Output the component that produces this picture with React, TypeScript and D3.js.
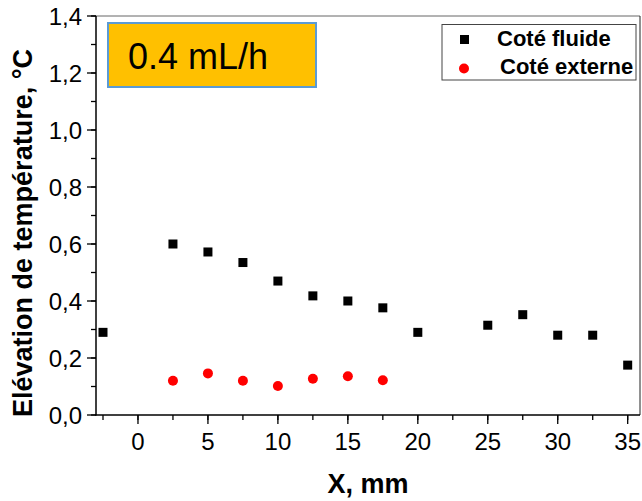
import React, { useEffect, useRef } from 'react';
import * as d3 from 'd3';

// Coté fluide (black squares)
const fluideX = [-2.5, 2.5, 5, 7.5, 10, 12.5, 15, 17.5, 20, 25, 27.5, 30, 32.5, 35];
const fluideY = [0.29, 0.6, 0.572, 0.535, 0.47, 0.418, 0.4, 0.376, 0.29, 0.315, 0.352, 0.28, 0.28, 0.175];

// Coté externe (red circles)
const externeX = [2.5, 5, 7.5, 10, 12.5, 15, 17.5];
const externeY = [0.12, 0.146, 0.12, 0.102, 0.127, 0.136, 0.122];

const xTicks = [0, 5, 10, 15, 20, 25, 30, 35];
const yTicks = [0, 0.2, 0.4, 0.6, 0.8, 1.0, 1.2, 1.4];

const seriesNames = ['Coté fluide', 'Coté externe'];
const flowLabel = '0.4 mL/h';
const xTitle = 'X, mm';
const yTitle = 'Elévation de température, °C';

const FONT = '"Liberation Sans", Arial, sans-serif';

const App = () => {
    const svgRef = useRef<SVGSVGElement | null>(null);

    useEffect(() => {
        document.body.style.margin = '0';

        const width = 642;
        const height = 501;
        const left = 96;
        const right = 640;
        const top = 16;
        const bottom = 415;

        const svg = d3.select(svgRef.current);
        svg.selectAll('*').remove();
        svg.attr('width', width).attr('height', height);

        svg.append('rect')
            .attr('width', width)
            .attr('height', height)
            .attr('fill', '#fff');

        const xScale = d3.scaleLinear().domain([-3, 35.88]).range([left, right]);
        const yScale = d3.scaleLinear().domain([0, 1.4]).range([bottom, top]);

        // frame: top and right lines
        svg.append('line')
            .attr('x1', left).attr('x2', right)
            .attr('y1', top).attr('y2', top)
            .attr('stroke', '#666').attr('stroke-width', 1);
        svg.append('line')
            .attr('x1', right).attr('x2', right)
            .attr('y1', top).attr('y2', bottom)
            .attr('stroke', '#222').attr('stroke-width', 1);

        // y axis with minor ticks
        const yMinor = d3.range(0, 1.41, 0.1);
        const yAxis = svg.append('g');
        yMinor.forEach(v => {
            yAxis.append('line')
                .attr('x1', left - 5).attr('x2', left)
                .attr('y1', yScale(v)).attr('y2', yScale(v))
                .attr('stroke', '#000').attr('stroke-width', 1.3);
        });
        yTicks.forEach(v => {
            yAxis.append('line')
                .attr('x1', left - 9).attr('x2', left)
                .attr('y1', yScale(v)).attr('y2', yScale(v))
                .attr('stroke', '#000').attr('stroke-width', 1.3);
            yAxis.append('text')
                .attr('x', left - 14)
                .attr('y', yScale(v))
                .attr('dy', '0.36em')
                .attr('text-anchor', 'end')
                .style('font-family', FONT)
                .style('font-size', '24px')
                .text(d3.format('.1f')(v).replace('.', ','));
        });
        yAxis.append('line')
            .attr('x1', left).attr('x2', left)
            .attr('y1', top).attr('y2', bottom + 0.6)
            .attr('stroke', '#000').attr('stroke-width', 1.5);

        // x axis with minor ticks
        const xMinor = d3.range(-2.5, 35.1, 2.5);
        const xAxis = svg.append('g');
        xMinor.forEach(v => {
            xAxis.append('line')
                .attr('x1', xScale(v)).attr('x2', xScale(v))
                .attr('y1', bottom).attr('y2', bottom + 5)
                .attr('stroke', '#000').attr('stroke-width', 1.3);
        });
        xTicks.forEach(v => {
            xAxis.append('line')
                .attr('x1', xScale(v)).attr('x2', xScale(v))
                .attr('y1', bottom).attr('y2', bottom + 9)
                .attr('stroke', '#000').attr('stroke-width', 1.3);
            xAxis.append('text')
                .attr('x', xScale(v))
                .attr('y', 450)
                .attr('text-anchor', 'middle')
                .style('font-family', FONT)
                .style('font-size', '24px')
                .text(v);
        });
        xAxis.append('line')
            .attr('x1', left - 0.6).attr('x2', right)
            .attr('y1', bottom).attr('y2', bottom)
            .attr('stroke', '#000').attr('stroke-width', 1.5);

        // axis titles
        svg.append('text')
            .attr('x', 368)
            .attr('y', 493)
            .attr('text-anchor', 'middle')
            .style('font-family', FONT)
            .style('font-size', '27px')
            .style('font-weight', 'bold')
            .text(xTitle);

        svg.append('text')
            .attr('transform', `translate(32, 233) rotate(-90)`)
            .attr('text-anchor', 'middle')
            .style('font-family', FONT)
            .style('font-size', '27px')
            .style('font-weight', 'bold')
            .text(yTitle);

        // data points
        const sq = 9;
        fluideX.forEach((x, i) => {
            svg.append('rect')
                .attr('x', xScale(x) - sq / 2)
                .attr('y', yScale(fluideY[i]) - sq / 2)
                .attr('width', sq)
                .attr('height', sq)
                .attr('fill', '#000');
        });
        externeX.forEach((x, i) => {
            svg.append('circle')
                .attr('cx', xScale(x))
                .attr('cy', yScale(externeY[i]))
                .attr('r', 5)
                .attr('fill', '#ff0000');
        });

        // flow-rate label box
        svg.append('rect')
            .attr('x', 108).attr('y', 23)
            .attr('width', 208).attr('height', 64)
            .attr('fill', '#FFC000')
            .attr('stroke', '#5B9BD5')
            .attr('stroke-width', 2);
        svg.append('text')
            .attr('x', 128)
            .attr('y', 69)
            .style('font-family', FONT)
            .style('font-size', '36px')
            .text(flowLabel);

        // legend
        svg.append('rect')
            .attr('x', 442).attr('y', 24.5)
            .attr('width', 194).attr('height', 55.5)
            .attr('fill', '#fff')
            .attr('stroke', '#444')
            .attr('stroke-width', 1);
        svg.append('rect')
            .attr('x', 464.5 - 4.5).attr('y', 39.5 - 4.5)
            .attr('width', 9).attr('height', 9)
            .attr('fill', '#000');
        svg.append('circle')
            .attr('cx', 464).attr('cy', 68.5)
            .attr('r', 5)
            .attr('fill', '#ff0000');
        svg.append('text')
            .attr('x', 497).attr('y', 45.5)
            .style('font-family', FONT)
            .style('font-size', '22px')
            .style('font-weight', 'bold')
            .text(seriesNames[0]);
        svg.append('text')
            .attr('x', 500).attr('y', 74)
            .style('font-family', FONT)
            .style('font-size', '22px')
            .style('font-weight', 'bold')
            .text(seriesNames[1]);
    }, []);

    return (
        <div style={{ width: 642, height: 501 }}>
            <svg ref={svgRef} style={{ display: 'block' }}></svg>
        </div>
    );
};

export default App;
